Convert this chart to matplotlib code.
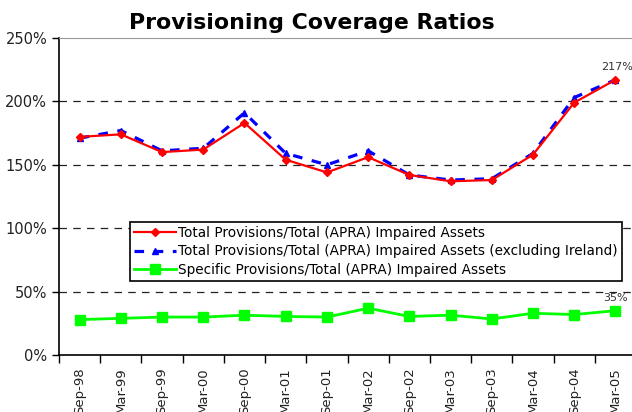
import numpy as np
import matplotlib
matplotlib.use('Agg')
import matplotlib.pyplot as plt
from matplotlib.ticker import FuncFormatter, FixedLocator

# data
periods = ['Sep-98', 'Mar-99', 'Sep-99', 'Mar-00', 'Sep-00', 'Mar-01', 'Sep-01',
           'Mar-02', 'Sep-02', 'Mar-03', 'Sep-03', 'Mar-04', 'Sep-04', 'Mar-05']
total_prov = [172, 174, 160, 162, 183, 154, 144, 156, 142, 137, 138, 158, 199, 217]
total_ex_ireland = [171, 177, 161, 163, 191, 159, 150, 161, 142, 138, 139, 159, 203, 217]
specific_prov = [28, 29, 30, 30, 31.5, 30.5, 30, 37, 30.5, 31.5, 28.5, 33, 32, 35]

fig = plt.figure(figsize=(6.32, 4.12), dpi=100)
ax = fig.add_axes([0.0934, 0.138, 0.913, 0.77])

x = np.arange(len(periods))

ax.plot(x, total_prov, color='#ff0000', lw=1.6, marker='D', ms=4,
        label='Total Provisions/Total (APRA) Impaired Assets', zorder=4)
ax.plot(x, total_ex_ireland, color='#0000ff', lw=2.3, ls=(0, (3, 3)), marker='^', ms=5,
        label='Total Provisions/Total (APRA) Impaired Assets (excluding Ireland)', zorder=3)
ax.plot(x, specific_prov, color='#00ff00', lw=2, marker='s', ms=6.5,
        label='Specific Provisions/Total (APRA) Impaired Assets', zorder=3)

ax.set_ylim(0, 250)
ax.set_xlim(-0.5, len(periods) - 0.5)
ax.set_yticks([0, 50, 100, 150, 200, 250])
ax.yaxis.set_major_formatter(FuncFormatter(lambda v, p: '%d%%' % v))
for g in [50, 100, 150, 200]:
    ax.axhline(g, color='#222222', lw=0.9, ls=(0, (6, 5)), zorder=1)

ax.set_xticks(x)
ax.set_xticklabels(periods, rotation=90, fontsize=9.5, color='#222222')
ax.tick_params(axis='x', which='major', length=0, pad=9)
ax.xaxis.set_minor_locator(FixedLocator(np.arange(-0.5, len(periods), 1.0)))
ax.tick_params(axis='x', which='minor', length=6, width=1, color='black')
ax.tick_params(axis='y', length=5, width=1, labelsize=10.5, labelcolor='#222222')

ax.spines['top'].set_color('#999999')
ax.spines['right'].set_visible(False)
ax.spines['left'].set_linewidth(1.2)
ax.spines['bottom'].set_linewidth(1.2)

ax.text(13.05, 223, '217%', fontsize=8, color='#333333', ha='center', va='bottom')
ax.text(13.0, 41, '35%', fontsize=8, color='#333333', ha='center', va='bottom')

leg = ax.legend(loc='upper left', bbox_to_anchor=(0.123, 0.42), fontsize=9.8,
                frameon=True, fancybox=False, borderpad=0.3, labelspacing=0.32,
                handlelength=3.1, handletextpad=0.15, borderaxespad=0, framealpha=1)
leg.get_frame().set_edgecolor('black')
leg.get_frame().set_linewidth(1.2)

fig.text(0.494, 0.92, 'Provisioning Coverage Ratios', ha='center', va='bottom',
         fontsize=15.8, fontweight='bold')

plt.savefig('out.png', dpi=100)
